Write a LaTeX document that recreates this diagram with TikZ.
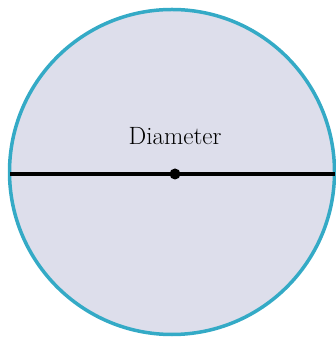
\documentclass[tikz,border=0pt]{standalone}
\usepackage{tikz}
\usepackage{xcolor}
\usetikzlibrary{positioning}

\definecolor{rim}{RGB}{52,170,198}
\definecolor{disk}{RGB}{221,222,235}

\begin{document}
\begin{tikzpicture}[x=1pt, y=1pt]
        \useasboundingbox (0,0) rectangle (335,339);
        \node[circle, draw=rim, fill=disk, line width=3.5pt, minimum size=325pt, inner sep=0pt] (C) at (172,167) {};
        \coordinate (W) at (10,165);
        \coordinate (E) at (335,165);
        \draw[line width=3.5pt] (W) -- (E);
        \node[circle, fill=black, minimum size=11pt, inner sep=0pt] (O) at (175,165) {};
        \node[above=20pt of O, font=\fontsize{25}{30}\selectfont] (L) {Diameter};
    \end{tikzpicture}
\end{document}
